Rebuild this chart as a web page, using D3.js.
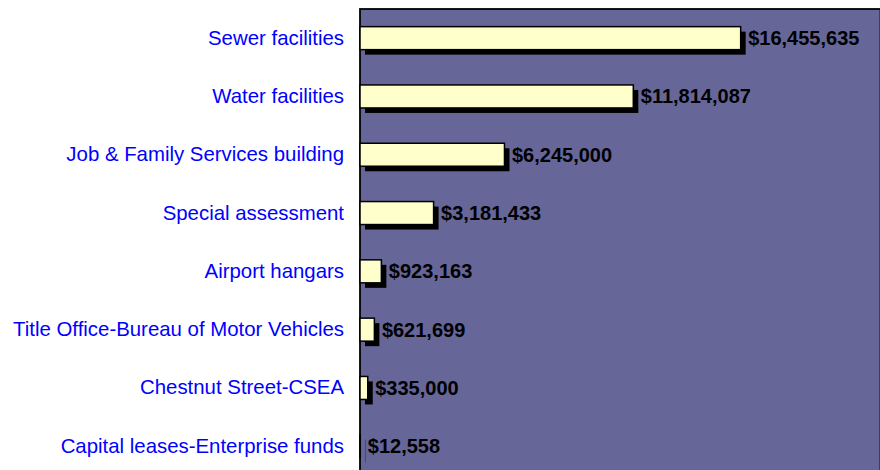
<!DOCTYPE html>
<html>
<head>
<meta charset="utf-8">
<script src="https://cdn.jsdelivr.net/npm/d3@7"></script>
<style>
  html, body { margin: 0; padding: 0; background: #ffffff; }
  svg { display: block; }
</style>
</head>
<body>
<svg id="chart" width="880" height="470"></svg>
<script>
const categories = [
  "Sewer facilities",
  "Water facilities",
  "Job & Family Services building",
  "Special assessment",
  "Airport hangars",
  "Title Office-Bureau of Motor Vehicles",
  "Chestnut Street-CSEA",
  "Capital leases-Enterprise funds"
];
const values = [16455635, 11814087, 6245000, 3181433, 923163, 621699, 335000, 12558];

const data = categories.map((c, i) => ({ category: c, value: values[i] }));

const svg = d3.select("#chart");
const plot = { left: 360, top: 9, right: 880.5, bottom: 9 + 8 * 58.3 };

const x = d3.scaleLinear().domain([0, 22500000]).range([plot.left, plot.right]);
const y = d3.scaleBand().domain(categories).range([plot.top, plot.bottom])
  .paddingInner(0.6055).paddingOuter(0.30275);

// plot background
svg.append("rect")
  .attr("x", plot.left).attr("y", plot.top)
  .attr("width", plot.right - plot.left).attr("height", plot.bottom - plot.top)
  .attr("fill", "#666699")
  .attr("stroke", "#000000").attr("stroke-width", 1.8);

const off = 5;
// shadows
svg.append("g").selectAll("rect").data(data).join("rect")
  .attr("x", d => x(0) + off)
  .attr("y", d => y(d.category) + off)
  .attr("width", d => x(d.value) - x(0))
  .attr("height", y.bandwidth())
  .attr("fill", "#000000");

// bars
svg.append("g").selectAll("rect").data(data).join("rect")
  .attr("x", d => x(0))
  .attr("y", d => y(d.category))
  .attr("width", d => x(d.value) - x(0))
  .attr("height", y.bandwidth())
  .attr("fill", "#FFFFCC")
  .attr("stroke", "#000000").attr("stroke-width", 1.5);

// category labels
const yAxis = d3.axisLeft(y).tickSize(0).tickPadding(16);
const ga = svg.append("g").attr("transform", `translate(${plot.left},0)`).call(yAxis);
ga.select(".domain").remove();
ga.selectAll("text")
  .attr("fill", "#0000FF")
  .style("font-family", "'Liberation Sans', Arial, sans-serif")
  .style("font-size", "20.4px");

// value labels
const fmt = d3.format(",");
svg.append("g").selectAll("text").data(data).join("text")
  .attr("x", d => x(d.value) + 7.5)
  .attr("y", d => y(d.category) + y.bandwidth() / 2)
  .attr("dy", "0.35em")
  .attr("fill", "#000000")
  .style("font-family", "'Liberation Sans', Arial, sans-serif")
  .style("font-size", "20px")
  .style("font-weight", "bold")
  .text(d => "$" + fmt(d.value));
</script>
</body>
</html>
